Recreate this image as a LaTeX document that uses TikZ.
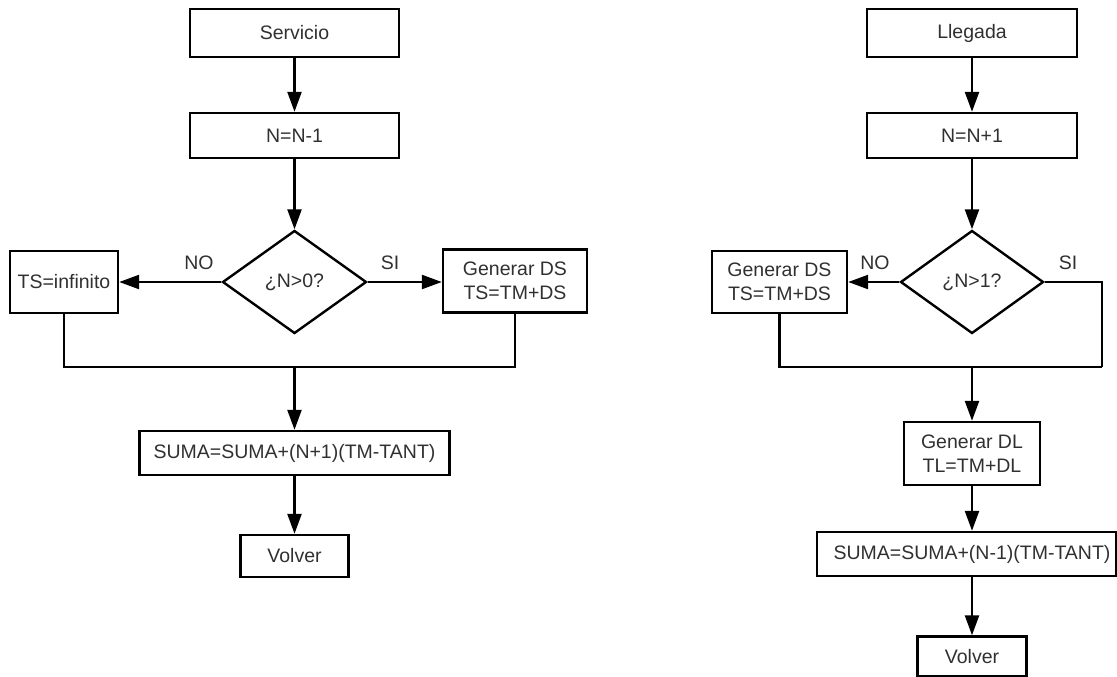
\documentclass[tikz,border=0pt]{standalone}
\usepackage{fontspec}
\setmainfont{Liberation Sans}
\usetikzlibrary{shapes.geometric,arrows.meta}
\definecolor{txt}{HTML}{303030}
\begin{document}
\begin{tikzpicture}[x=1pt,y=-1pt,
  box/.style={draw=black, line width=2.4pt, rectangle, inner sep=0pt,
    align=center, text=txt, font=\fontsize{19.5}{24}\selectfont},
  dec/.style={draw=black, line width=2.4pt, diamond, inner sep=0pt,
    text=txt, font=\fontsize{19.5}{24}\selectfont},
  flow/.style={line width=2.4pt, -{Triangle[length=20pt,width=14pt]}},
  link/.style={line width=2.4pt},
  lbl/.style={text=txt, font=\fontsize{19.5}{24}\selectfont}]
\useasboundingbox (0,0) rectangle (1117,677);

% ---------- Servicio ----------
\node[box, minimum width=209pt, minimum height=48pt] (serv) at (294.5,33) {Servicio};
\node[box, minimum width=209pt, minimum height=45pt] (n1) at (294.5,135.5) {N=N-1};
\node[dec, minimum width=144pt, minimum height=103pt] (d1) at (294.5,282) {¿N>0?};
\node[box, minimum width=108pt, minimum height=62pt] (tsinf) at (64,282) {TS=infinito};
\node[box, minimum width=144pt, minimum height=63pt] (gds1) at (515,281) {Generar DS\\TS=TM+DS};
\node[box, minimum width=310pt, minimum height=44pt] (suma1) at (294.5,453) {SUMA=SUMA+(N+1)(TM-TANT)};
\node[box, minimum width=108pt, minimum height=42pt] (volv1) at (294.5,556) {Volver};
\coordinate (j1) at (294.5,367);

\node[lbl] (no1) at (199,263) {NO};
\node[lbl] (si1) at (390,263) {SI};

\draw[flow] (serv) -- (n1);
\draw[flow] (n1) -- (d1);
\draw[flow] (d1.west) -- (tsinf.east);
\draw[flow] (d1.east) -- (gds1.west |- d1.east);
\draw[link] (tsinf.south) |- (j1) -| (gds1.south);
\draw[flow] (j1) -- (suma1.north);
\draw[flow] (suma1) -- (volv1);

% ---------- Llegada ----------
\node[box, minimum width=210pt, minimum height=48pt] (lleg) at (972,33) {Llegada};
\node[box, minimum width=210pt, minimum height=45pt] (n2) at (972,135.5) {N=N+1};
\node[dec, minimum width=143pt, minimum height=103pt] (d2) at (972,282) {¿N>1?};
\node[box, minimum width=135pt, minimum height=62pt] (gds2) at (779.5,282) {Generar DS\\TS=TM+DS};
\node[box, minimum width=136pt, minimum height=63pt] (gdl) at (972,453.5) {Generar DL\\TL=TM+DL};
\node[box, minimum width=299pt, minimum height=44pt] (suma2) at (966.5,554) {\hspace{11pt}SUMA=SUMA+(N-1)(TM-TANT)};
\node[box, minimum width=109pt, minimum height=40pt] (volv2) at (972,656.5) {Volver};
\coordinate (j2) at (972,367);
\coordinate (c2) at (1102,367);

\node[lbl] (no2) at (875,263) {NO};
\node[lbl] (si2) at (1068,263) {SI};

\draw[flow] (lleg) -- (n2);
\draw[flow] (n2) -- (d2);
\draw[flow] (d2.west) -- (gds2.east);
\draw[link] (d2.east) -| (c2);
\draw[link] (gds2.south) |- (c2);
\draw[flow] (j2) -- (gdl.north);
\draw[flow] (gdl.south) -- (gdl.south |- suma2.north);
\draw[flow] (volv2.north |- suma2.south) -- (volv2.north);
\end{tikzpicture}
\end{document}
